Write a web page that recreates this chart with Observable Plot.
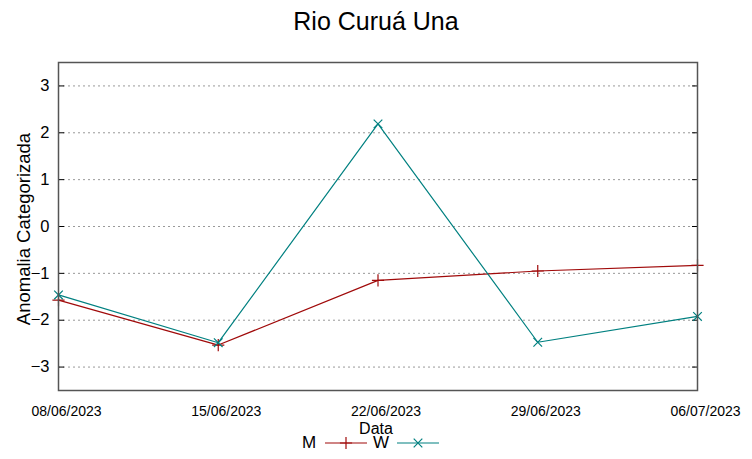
<!DOCTYPE html>
<html>
<head>
<meta charset="utf-8">
<script src="https://cdn.jsdelivr.net/npm/d3@7"></script>
<script src="https://cdn.jsdelivr.net/npm/@observablehq/plot@0.6"></script>
<style>
  body { margin: 0; background: #fff; font-family: "Liberation Sans", Arial, sans-serif; }
  #wrap { position: relative; width: 752px; height: 459px; overflow: hidden; }
  #title { position: absolute; top: 7px; left: 0; width: 752px; text-align: center; font-size: 25px; color: #000; }
  #legend { position: absolute; top: 434px; left: 302px; display: flex; align-items: center; font-size: 17px; color: #000; height: 18px; }
  #legend span { display: inline-block; }
  #chart { position: absolute; top: 0; left: 0; }
  #ylabel { position: absolute; left: 23.5px; top: 229px; width: 300px; margin-left: -150px; margin-top: -11px; height: 22px; line-height: 22px; text-align: center; font-size: 18.5px; transform: rotate(-90deg); color: #000; }
  #xlabel { position: absolute; left: 0; width: 752px; text-align: center; top: 420px; font-size: 16px; line-height: 18px; color: #000; }
</style>
</head>
<body>
<div id="wrap">
  <div id="chart"></div>
  <div id="title"></div>
  <div id="ylabel"></div>
  <div id="xlabel"></div>
  <div id="legend"></div>
</div>
<script>
const dates = ["2023-06-08", "2023-06-15", "2023-06-22", "2023-06-29", "2023-07-06"];
const seriesNames = ["M", "W"];
const seriesColors = ["#a00a0a", "#008080"];
const seriesSymbols = ["plus", "times"];
const valuesM = [-1.57, -2.53, -1.15, -0.95, -0.83];
const valuesW = [-1.46, -2.48, 2.19, -2.47, -1.92];
const yTicks = [-3, -2, -1, 0, 1, 2, 3];
const title = "Rio Curuá Una";
const xLabel = "Data";
const yLabel = "Anomalia Categorizada";

document.getElementById("title").textContent = title;
document.getElementById("xlabel").textContent = xLabel;
document.getElementById("ylabel").textContent = yLabel;

const parse = d3.utcParse("%Y-%m-%d");
const xDates = dates.map(parse);
const rows = [];
[valuesM, valuesW].forEach((vals, i) => {
  vals.forEach((v, j) => rows.push({date: xDates[j], value: v, series: seriesNames[i]}));
});

const color = {domain: seriesNames, range: seriesColors};

const chart = Plot.plot({
  width: 752,
  height: 459,
  marginLeft: 58,
  marginRight: 55,
  marginTop: 62,
  marginBottom: 69,
  style: {fontFamily: "Liberation Sans, Arial, sans-serif", background: "transparent"},
  x: {type: "utc", domain: [xDates[0], xDates[xDates.length - 1]]},
  y: {domain: [-3.5, 3.5]},
  color,
  marks: [
    Plot.gridY(yTicks, {stroke: "#999", strokeOpacity: 1, strokeDasharray: "2,3"}),
    Plot.axisY(yTicks, {anchor: "left", tickSize: -6, stroke: "#000", tickPadding: 15, fontSize: 16.5, label: null}),
    Plot.axisY(yTicks, {anchor: "right", tickSize: -6, stroke: "#000", tickFormat: () => "", label: null}),
    Plot.axisX(xDates, {anchor: "bottom", tickSize: 0, tickPadding: 16, dx: 8, tickFormat: d3.utcFormat("%d/%m/%Y"), fontSize: 14, label: null}),
    Plot.line(rows, {x: "date", y: "value", z: "series", stroke: "series", strokeWidth: 1.2}),
    Plot.dot(rows, {x: "date", y: "value", stroke: "series", symbol: d => seriesSymbols[seriesNames.indexOf(d.series)], r: 4, strokeWidth: 1.2}),
    Plot.frame({stroke: "#555", strokeWidth: 1.5})
  ]
});
document.getElementById("chart").append(chart);

// legend
const legend = document.getElementById("legend");
seriesNames.forEach((name, i) => {
  const lab = document.createElement("span");
  lab.textContent = name;
  lab.style.width = i === 0 ? "23px" : "24px";
  lab.style.textAlign = "left";
  legend.append(lab);
  const svg = d3.create("svg").attr("width", 44).attr("height", 16);
  svg.append("line").attr("x1", 0).attr("x2", 42).attr("y1", 8).attr("y2", 8).attr("stroke", seriesColors[i]).attr("stroke-width", 1.2);
  const sym = d3.symbol(i === 0 ? d3.symbolPlus : d3.symbolTimes, 50)();
  svg.append("path").attr("d", sym).attr("transform", "translate(21,8)").attr("fill", "none").attr("stroke", seriesColors[i]).attr("stroke-width", 1.2);
  legend.append(svg.node());
  if (i === 0) {
    const gap = document.createElement("span");
    gap.style.width = "4px";
    legend.append(gap);
  }
});
</script>
</body>
</html>
